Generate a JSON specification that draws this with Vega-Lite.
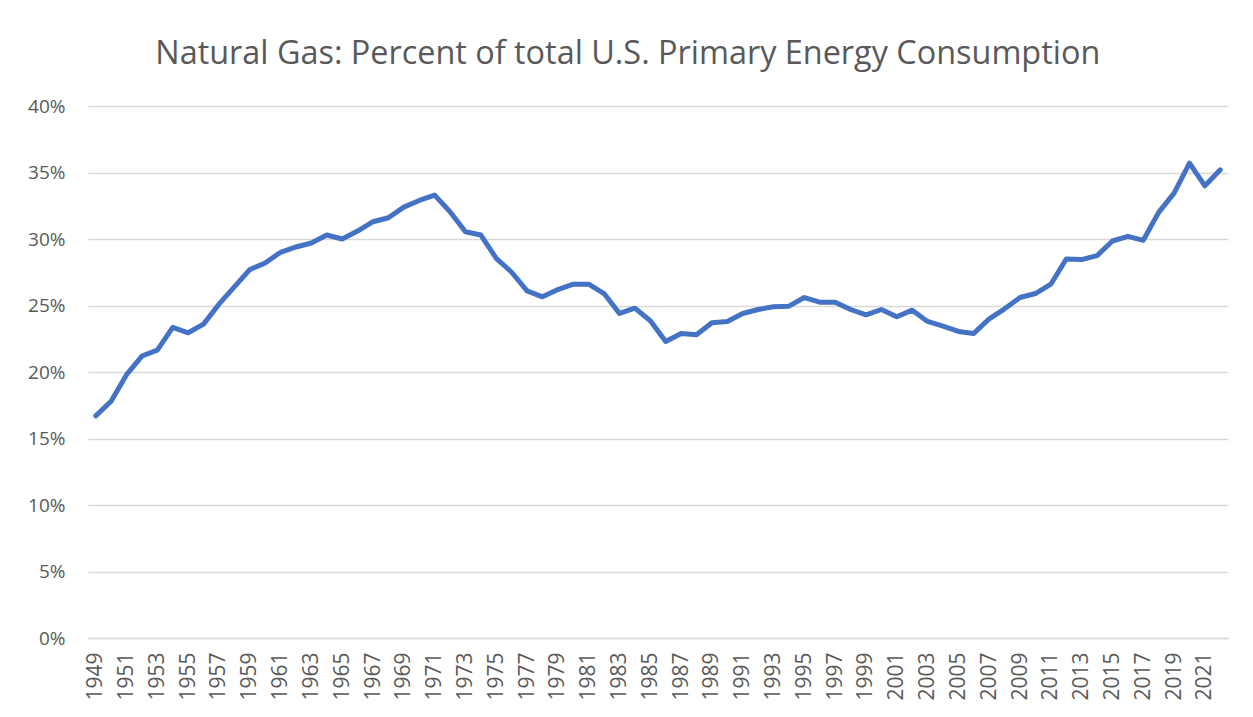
{
  "$schema": "https://vega.github.io/schema/vega-lite/v6.json",
  "width": 1140,
  "height": 532,
  "autosize": "none",
  "padding": {"left": 88, "top": 106, "right": 25, "bottom": 79},
  "background": "white",
  "title": {
    "text": "Natural Gas: Percent of total U.S. Primary Energy Consumption",
    "anchor": "middle",
    "frame": "bounds",
    "font": "Open Sans",
    "fontSize": 32.4,
    "fontWeight": "normal",
    "color": "#595959",
    "offset": 27
  },
  "config": {
    "view": {"stroke": null},
    "font": "Open Sans"
  },
  "data": {
    "values": [
      {"year": 1949, "pct": 16.7}, {"year": 1950, "pct": 17.8}, {"year": 1951, "pct": 19.8},
      {"year": 1952, "pct": 21.2}, {"year": 1953, "pct": 21.65}, {"year": 1954, "pct": 23.35},
      {"year": 1955, "pct": 22.95}, {"year": 1956, "pct": 23.6}, {"year": 1957, "pct": 25.1},
      {"year": 1958, "pct": 26.4}, {"year": 1959, "pct": 27.7}, {"year": 1960, "pct": 28.2},
      {"year": 1961, "pct": 29.0}, {"year": 1962, "pct": 29.4}, {"year": 1963, "pct": 29.7},
      {"year": 1964, "pct": 30.3}, {"year": 1965, "pct": 30.0}, {"year": 1966, "pct": 30.6},
      {"year": 1967, "pct": 31.3}, {"year": 1968, "pct": 31.6}, {"year": 1969, "pct": 32.4},
      {"year": 1970, "pct": 32.9}, {"year": 1971, "pct": 33.3}, {"year": 1972, "pct": 32.05},
      {"year": 1973, "pct": 30.55}, {"year": 1974, "pct": 30.3}, {"year": 1975, "pct": 28.55},
      {"year": 1976, "pct": 27.5}, {"year": 1977, "pct": 26.1}, {"year": 1978, "pct": 25.65},
      {"year": 1979, "pct": 26.2}, {"year": 1980, "pct": 26.6}, {"year": 1981, "pct": 26.6},
      {"year": 1982, "pct": 25.9}, {"year": 1983, "pct": 24.4}, {"year": 1984, "pct": 24.8},
      {"year": 1985, "pct": 23.85}, {"year": 1986, "pct": 22.3}, {"year": 1987, "pct": 22.9},
      {"year": 1988, "pct": 22.8}, {"year": 1989, "pct": 23.7}, {"year": 1990, "pct": 23.8},
      {"year": 1991, "pct": 24.4}, {"year": 1992, "pct": 24.7}, {"year": 1993, "pct": 24.9},
      {"year": 1994, "pct": 24.95}, {"year": 1995, "pct": 25.6}, {"year": 1996, "pct": 25.25},
      {"year": 1997, "pct": 25.25}, {"year": 1998, "pct": 24.7}, {"year": 1999, "pct": 24.3},
      {"year": 2000, "pct": 24.7}, {"year": 2001, "pct": 24.15}, {"year": 2002, "pct": 24.65},
      {"year": 2003, "pct": 23.8}, {"year": 2004, "pct": 23.45}, {"year": 2005, "pct": 23.05},
      {"year": 2006, "pct": 22.9}, {"year": 2007, "pct": 24.0}, {"year": 2008, "pct": 24.75},
      {"year": 2009, "pct": 25.6}, {"year": 2010, "pct": 25.9}, {"year": 2011, "pct": 26.6},
      {"year": 2012, "pct": 28.5}, {"year": 2013, "pct": 28.45}, {"year": 2014, "pct": 28.75},
      {"year": 2015, "pct": 29.85}, {"year": 2016, "pct": 30.2}, {"year": 2017, "pct": 29.9},
      {"year": 2018, "pct": 32.0}, {"year": 2019, "pct": 33.45}, {"year": 2020, "pct": 35.7},
      {"year": 2021, "pct": 34.0}, {"year": 2022, "pct": 35.2}
    ]
  },
  "mark": {
    "type": "line",
    "color": "#4472C4",
    "strokeWidth": 5,
    "strokeCap": "round",
    "strokeJoin": "round"
  },
  "encoding": {
    "x": {
      "field": "year",
      "type": "ordinal",
      "scale": {"type": "point", "padding": 0.5},
      "axis": {
        "title": null,
        "values": [1949,1951,1953,1955,1957,1959,1961,1963,1965,1967,1969,1971,1973,1975,1977,1979,1981,1983,1985,1987,1989,1991,1993,1995,1997,1999,2001,2003,2005,2007,2009,2011,2013,2015,2017,2019,2021],
        "labelAngle": 270,
        "labelFontSize": 21,
        "labelColor": "#595959",
        "labelPadding": 14,
        "ticks": false,
        "domain": true,
        "domainColor": "#D9D9D9",
        "domainWidth": 1.5,
        "grid": false
      }
    },
    "y": {
      "field": "pct",
      "type": "quantitative",
      "scale": {"domain": [0, 40], "nice": false, "zero": true},
      "axis": {
        "title": null,
        "values": [0,5,10,15,20,25,30,35,40],
        "labelExpr": "datum.value + '%'",
        "labelFontSize": 19,
        "labelColor": "#595959",
        "labelPadding": 23,
        "ticks": false,
        "domain": false,
        "grid": true,
        "gridColor": "#D9D9D9",
        "gridWidth": 1.5
      }
    }
  }
}
